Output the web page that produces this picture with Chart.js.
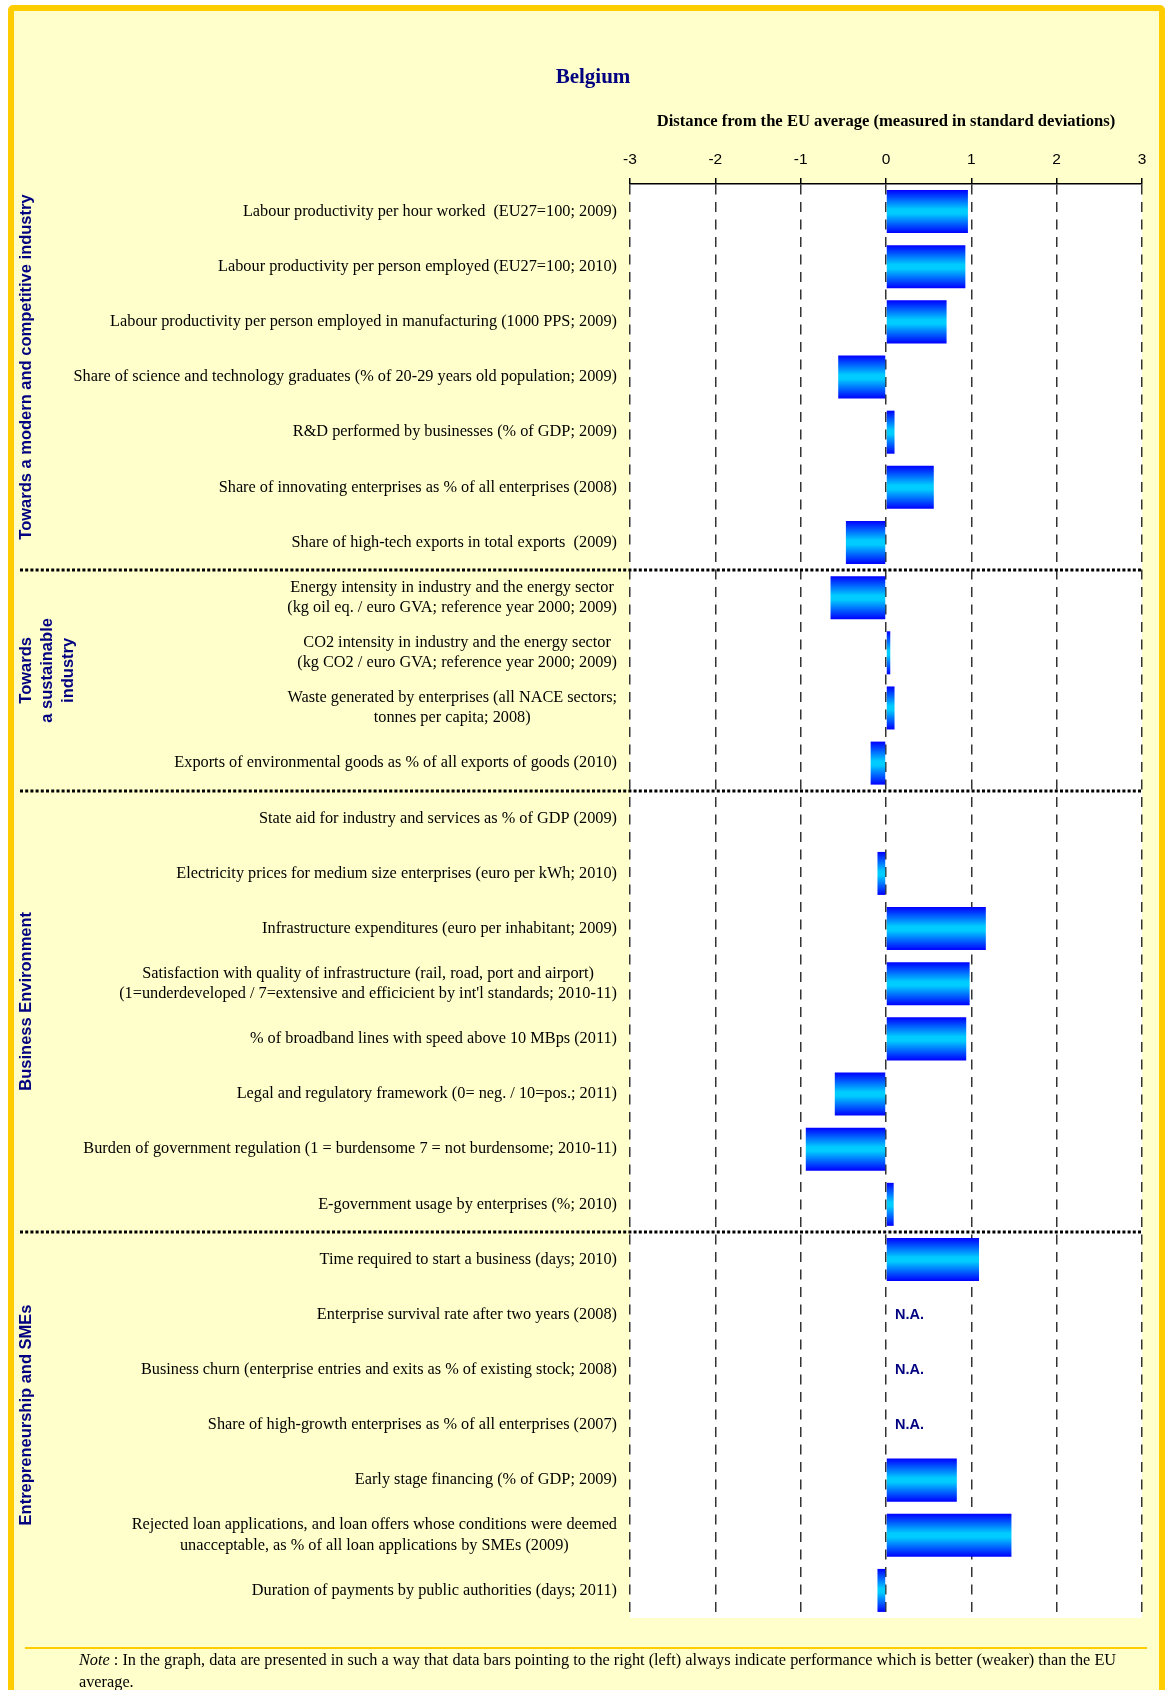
<!DOCTYPE html>
<html>
<head>
<meta charset="utf-8">
<title>Belgium</title>
<script src="https://cdn.jsdelivr.net/npm/chart.js@4.4.1/dist/chart.umd.min.js"></script>
<style>
  html, body { margin: 0; padding: 0; background: #fff; overflow: hidden; }
  body { width: 1165px; height: 1690px; position: relative; }
  #frame {
    position: absolute; left: 8px; top: 5px;
    width: 1145px; height: 1720px;
    border: 6px solid #ffcc00; border-radius: 5px;
    background: #ffffcc;
  }
  #chart { position: absolute; left: 0; top: 0; }
  #rule { position: absolute; left: 25px; top: 1647px; width: 1122px; height: 2px; background: #ffcc00; }
  #note {
    position: absolute; left: 79px; top: 1649px;
    font: 16.3px "Liberation Serif", "Times New Roman", serif;
    line-height: 22px; color: #000; white-space: nowrap;
  }
</style>
</head>
<body>
<div id="frame"></div>
<canvas id="chart" width="1165" height="1690"></canvas>
<div id="rule"></div>
<div id="note"><i>Note</i> : In the graph, data are presented in such a way that data bars pointing to the right (left) always indicate performance which is better (weaker) than the EU<br>average.</div>

<script>
// indicators, top to bottom
const indicators = [
  'Labour productivity per hour worked  (EU27=100; 2009)',
  'Labour productivity per person employed (EU27=100; 2010)',
  'Labour productivity per person employed in manufacturing (1000 PPS; 2009)',
  'Share of science and technology graduates (% of 20-29 years old population; 2009)',
  'R&D performed by businesses (% of GDP; 2009)',
  'Share of innovating enterprises as % of all enterprises (2008)',
  'Share of high-tech exports in total exports  (2009)',
  ['Energy intensity in industry and the energy sector', '(kg oil eq. / euro GVA; reference year 2000; 2009)'],
  ['CO2 intensity in industry and the energy sector', '(kg CO2 / euro GVA; reference year 2000; 2009)'],
  ['Waste generated by enterprises (all NACE sectors;', 'tonnes per capita; 2008)'],
  'Exports of environmental goods as % of all exports of goods (2010)',
  'State aid for industry and services as % of GDP (2009)',
  'Electricity prices for medium size enterprises (euro per kWh; 2010)',
  'Infrastructure expenditures (euro per inhabitant; 2009)',
  ['Satisfaction with quality of infrastructure (rail, road, port and airport)', "(1=underdeveloped / 7=extensive and efficicient by int'l standards; 2010-11)"],
  '% of broadband lines with speed above 10 MBps (2011)',
  'Legal and regulatory framework (0= neg. / 10=pos.; 2011)',
  'Burden of government regulation (1 = burdensome 7 = not burdensome; 2010-11)',
  'E-government usage by enterprises (%; 2010)',
  'Time required to start a business (days; 2010)',
  'Enterprise survival rate after two years (2008)',
  'Business churn (enterprise entries and exits as % of existing stock; 2008)',
  'Share of high-growth enterprises as % of all enterprises (2007)',
  'Early stage financing (% of GDP; 2009)',
  ['Rejected loan applications, and loan offers whose conditions were deemed', 'unacceptable, as % of all loan applications by SMEs (2009)'],
  'Duration of payments by public authorities (days; 2011)'
];

// distance from EU average in standard deviations (null = N.A.)
const distances = [
  0.96, 0.93, 0.71, -0.56, 0.10, 0.56, -0.47,
  -0.65, 0.05, 0.10, -0.18,
  0, -0.10, 1.17, 0.98, 0.94, -0.60, -0.94, 0.09,
  1.09, null, null, null, 0.83, 1.47, -0.10
];

const groupNames = [
  ['Towards a modern and competitive industry'],
  ['Towards', 'a sustainable', 'industry'],
  ['Business Environment'],
  ['Entrepreneurship and SMEs']
];
const groupFirst = [0, 7, 11, 19];
const groupLast = [6, 10, 18, 25];

const xTicks = [-3, -2, -1, 0, 1, 2, 3];

const BAR_PCT = 0.78;
const NAVY = '#000080';
const SERIF = '"Liberation Serif", "Times New Roman", serif';
const SANS = '"Liberation Sans", Arial, sans-serif';

function barGradient(context) {
  const chart = context.chart;
  const area = chart.chartArea;
  const yScale = chart.scales.y;
  if (!area || !yScale || context.dataIndex === undefined) return '#00ccff';
  const yc = yScale.getPixelForValue(context.dataIndex);
  const half = (area.bottom - area.top) / indicators.length * BAR_PCT / 2;
  const g = chart.ctx.createLinearGradient(0, yc - half, 0, yc + half);
  g.addColorStop(0, '#0000ff');
  g.addColorStop(0.45, '#00ccff');
  g.addColorStop(0.55, '#00ccff');
  g.addColorStop(1, '#0000ff');
  return g;
}

// white plot area
const plotBg = {
  id: 'plotBg',
  beforeDraw(chart) {
    const { ctx, chartArea: a } = chart;
    ctx.save();
    ctx.fillStyle = '#fff';
    ctx.fillRect(a.left, a.top, a.right - a.left, a.bottom - a.top);
    ctx.restore();
  }
};

// title, row labels, group labels, separators, N.A. marks
const decorations = {
  id: 'decorations',
  afterDatasetsDraw(chart) {
    const { ctx, chartArea: a, scales: { x, y } } = chart;
    ctx.save();

    // dotted separators between groups
    ctx.strokeStyle = '#000';
    ctx.lineWidth = 3;
    ctx.setLineDash([3, 2.2]);
    for (let g = 1; g < groupFirst.length; g++) {
      const yy = Math.round((y.getPixelForValue(groupFirst[g] - 1) + y.getPixelForValue(groupFirst[g])) / 2);
      ctx.beginPath();
      ctx.moveTo(20, yy);
      ctx.lineTo(a.right, yy);
      ctx.stroke();
    }
    ctx.setLineDash([]);

    // N.A. labels
    ctx.font = 'bold 14.5px ' + SANS;
    ctx.fillStyle = NAVY;
    ctx.textAlign = 'left';
    ctx.textBaseline = 'middle';
    distances.forEach((v, i) => {
      if (v === null) ctx.fillText('N.A.', x.getPixelForValue(0) + 9, y.getPixelForValue(i));
    });
    ctx.restore();
  },
  afterDraw(chart) {
    const { ctx, chartArea: a, scales: { y } } = chart;
    ctx.save();

    // chart title
    ctx.font = 'bold 21px ' + SERIF;
    ctx.fillStyle = NAVY;
    ctx.textAlign = 'center';
    ctx.textBaseline = 'middle';
    ctx.fillText('Belgium', 593, 78);

    // row labels, right-aligned block, lines centred inside it
    ctx.font = '16.3px ' + SERIF;
    ctx.fillStyle = '#000';
    const right = a.left - 13;
    indicators.forEach((lab, i) => {
      const lines = Array.isArray(lab) ? lab : [lab];
      const w = Math.max(...lines.map((l) => ctx.measureText(l).width));
      const cx = right - w / 2;
      const yc = y.getPixelForValue(i);
      lines.forEach((l, k) => ctx.fillText(l, cx, yc + (k - (lines.length - 1) / 2) * 20.5));
    });

    // rotated group labels
    ctx.font = 'bold 16.5px ' + SANS;
    ctx.fillStyle = NAVY;
    groupNames.forEach((lines, g) => {
      const yc = (y.getPixelForValue(groupFirst[g]) + y.getPixelForValue(groupLast[g])) / 2 - 10;
      ctx.save();
      ctx.translate(26, yc);
      ctx.rotate(-Math.PI / 2);
      lines.forEach((l, k) => ctx.fillText(l, 0, k * 21));
      ctx.restore();
    });
    ctx.restore();
  }
};

new Chart(document.getElementById('chart'), {
  type: 'bar',
  data: {
    labels: indicators,
    datasets: [{
      data: distances,
      backgroundColor: barGradient,
      borderWidth: 0,
      categoryPercentage: 1,
      barPercentage: BAR_PCT
    }]
  },
  options: {
    indexAxis: 'y',
    responsive: false,
    animation: false,
    devicePixelRatio: 1,
    layout: { padding: { top: 99, left: 0, right: 23, bottom: 72 } },
    plugins: {
      legend: { display: false },
      title: { display: false },
      tooltip: { enabled: false }
    },
    scales: {
      x: {
        position: 'top',
        min: xTicks[0],
        max: xTicks[xTicks.length - 1],
        afterBuildTicks(scale) {
          scale.ticks = xTicks.map((v) => ({ value: v }));
        },
        afterFit(scale) { scale.height = 85; },
        ticks: {
          font: { family: SANS, size: 15.5 },
          color: '#000',
          padding: 9
        },
        grid: {
          color: '#333',
          lineWidth: 1.5,
          tickLength: 6,
          tickColor: '#000',
          tickWidth: 1.5,
          tickBorderDash: []
        },
        border: { display: true, color: '#000', width: 1.5, dash: [10, 7.5] },
        title: {
          display: true,
          text: 'Distance from the EU average (measured in standard deviations)',
          font: { family: SERIF, size: 16.6, weight: 'bold' },
          color: '#000',
          padding: { top: 13, bottom: 0 }
        }
      },
      y: {
        afterFit(scale) { scale.width = 630; },
        ticks: { display: false },
        grid: { display: false },
        border: { display: false }
      }
    }
  },
  plugins: [plotBg, decorations]
});
</script>
</body>
</html>
